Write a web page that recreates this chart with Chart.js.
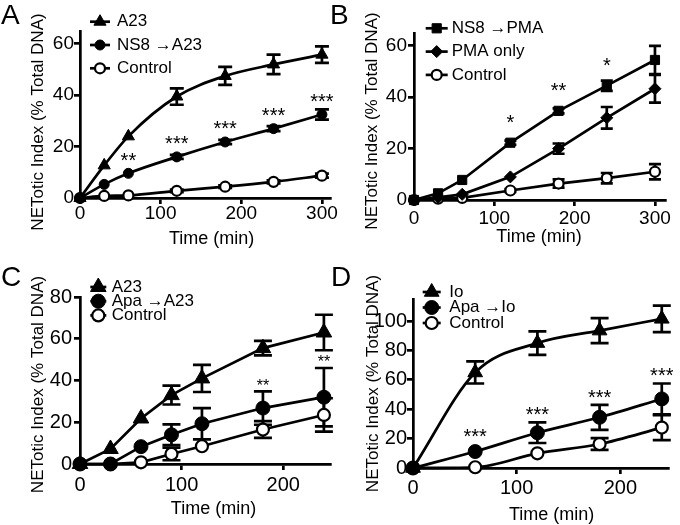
<!DOCTYPE html>
<html>
<head>
<meta charset="utf-8">
<script src="https://cdn.jsdelivr.net/npm/chart.js@4.4.1/dist/chart.umd.min.js"></script>
<style>
  html, body { margin: 0; padding: 0; background: #fff; }
  #figure { position: relative; width: 680px; height: 525px; font-family: "Liberation Sans", Arial, sans-serif; }
  .panel { position: absolute; }
  .letter { position: absolute; font-size: 28px; line-height: 1; color: #000; }
</style>
</head>
<body>
<div id="figure">
  <div class="panel" style="left:0;top:0;width:340px;height:262px"><canvas id="chartA" width="340" height="262"></canvas></div>
  <div class="panel" style="left:340px;top:0;width:340px;height:262px"><canvas id="chartB" width="340" height="262"></canvas></div>
  <div class="panel" style="left:0;top:262px;width:340px;height:263px"><canvas id="chartC" width="340" height="263"></canvas></div>
  <div class="panel" style="left:340px;top:262px;width:340px;height:263px"><canvas id="chartD" width="340" height="263"></canvas></div>
  <div class="letter" style="left:1px;top:1px">A</div>
  <div class="letter" style="left:330px;top:1px">B</div>
  <div class="letter" style="left:1px;top:263px">C</div>
  <div class="letter" style="left:331px;top:263px">D</div>
</div>
<script>
const FONT = '"Liberation Sans", Arial, sans-serif';
const Y_TITLE = "NETotic Index (% Total DNA)";
const X_TITLE = "Time (min)";

// Panel A
const timesA = [0, 30, 60, 120, 180, 240, 300];
const a23A = [0, 12.7, 24, 39.5, 47.5, 52, 55.8];
const a23ErrA = [0, 0, 0, 3.2, 3.5, 3.8, 3.2];
const ns8A = [0, 5.3, 9.6, 16, 21.8, 27, 32.5];
const ns8ErrA = [0, 0, 0, 0.8, 0.8, 1, 2];
const ctrlA = [0, 0.8, 1, 2.8, 4.4, 6.3, 8.7];
const ctrlErrA = [0, 0, 0, 0.5, 0.5, 0.6, 0.8];
const starsA = ["", "", "**", "***", "***", "***", "***"];
const xTicksA = [0, 100, 200, 300];
const yTicksA = [0, 20, 40, 60];

// Panel B
const timesB = [0, 30, 60, 120, 180, 240, 300];
const ns8PmaB = [0, 2.6, 7.8, 22.3, 34.7, 44.5, 54.5];
const ns8PmaErrB = [0, 0, 0, 0.8, 1, 2, 5.5];
const pmaOnlyB = [0, 1, 2.2, 9, 20, 32, 43.3];
const pmaOnlyErrB = [0, 0, 0, 0, 2, 4.2, 5.4];
const ctrlB = [0, 0.5, 0.8, 3.7, 6.4, 8.5, 11];
const ctrlErrB = [0, 0, 0, 0.5, 1.6, 2, 3];
const starsB = ["", "", "", "*", "**", "*", ""];
const xTicksB = [0, 100, 200, 300];
const yTicksB = [0, 20, 40, 60];

// Panel C
const timesC = [0, 30, 60, 90, 120, 180, 240];
const a23C = [0, 7.2, 21.8, 33, 41, 55.5, 63];
const a23ErrC = [0, 0, 0, 4.5, 6.5, 3.5, 8.5];
const apaC = [0, 0, 8.3, 14, 19.3, 26.8, 32];
const apaErrC = [0, 0, 0, 5, 7.5, 8, 14];
const ctrlC = [0, 0, 0.8, 4.8, 8.5, 16.5, 23.5];
const ctrlErrC = [0, 0, 0, 3, 0, 4, 8];
const starsC = ["", "", "", "", "", "**", "**"];
const xTicksC = [0, 100, 200];
const yTicksC = [0, 20, 40, 60, 80];

// Panel D
const timesD = [0, 60, 120, 180, 240];
const ioD = [0, 65, 85, 93.5, 101.5];
const ioErrD = [0, 7.5, 8, 8.5, 9];
const apaD = [0, 11.2, 24, 34.5, 47];
const apaErrD = [0, 0, 7, 8.5, 10.5];
const ctrlD = [0, 0.5, 10, 16.3, 27.5];
const ctrlErrD = [0, 0, 0, 4, 8.5];
const starsD = ["", "***", "***", "***", "***"];
const xTicksD = [0, 100, 200];
const yTicksD = [0, 20, 40, 60, 80, 100];

const LINE_W = 2.7;

function drawMarker(ctx, style, r, filled, x, y) {
  ctx.save();
  ctx.fillStyle = filled ? "#000" : "#fff";
  ctx.strokeStyle = "#000";
  ctx.lineWidth = filled ? 1 : 2.2;
  Chart.helpers.drawPoint(ctx, { pointStyle: style, radius: r, rotation: 0, borderWidth: ctx.lineWidth }, x, y);
  ctx.restore();
}

const errorBarPlugin = {
  id: "errorBars",
  beforeDatasetsDraw(chart, args, opts) {
    const { ctx } = chart;
    const x = chart.scales.x, y = chart.scales.y;
    ctx.save();
    ctx.strokeStyle = "#000";
    ctx.lineWidth = LINE_W;
    chart.data.datasets.forEach((ds) => {
      ds.data.forEach((p, i) => {
        const e = ds.errs[i];
        if (!e) return;
        const px = x.getPixelForValue(p.x);
        const top = y.getPixelForValue(p.y + e);
        const bot = y.getPixelForValue(p.y - e);
        ctx.beginPath();
        ctx.moveTo(px, top); ctx.lineTo(px, bot);
        ctx.moveTo(px - opts.cap, top); ctx.lineTo(px + opts.cap, top);
        ctx.moveTo(px - opts.cap, bot); ctx.lineTo(px + opts.cap, bot);
        ctx.stroke();
      });
    });
    ctx.restore();
  }
};

const starsPlugin = {
  id: "stars",
  afterDatasetsDraw(chart, args, opts) {
    const { ctx } = chart;
    const x = chart.scales.x, y = chart.scales.y;
    const ds = chart.data.datasets[opts.ref];
    ctx.save();
    ctx.fillStyle = "#000";
    ctx.font = `${opts.size}px ${FONT}`;
    ctx.textAlign = "center";
    ctx.textBaseline = "alphabetic";
    opts.labels.forEach((txt, i) => {
      if (!txt) return;
      const p = ds.data[i];
      const anchor = Math.min(y.getPixelForValue(p.y + ds.errs[i]), y.getPixelForValue(p.y) - ds.pointRadius);
      ctx.fillText(txt, x.getPixelForValue(p.x), anchor - opts.gap + 0.585 * opts.size);
    });
    ctx.restore();
  }
};

const panelTextPlugin = {
  id: "panelText",
  afterDraw(chart, args, opts) {
    const { ctx } = chart;
    ctx.save();
    ctx.fillStyle = "#000";
    ctx.textAlign = "center";
    ctx.textBaseline = "middle";
    ctx.font = `${opts.xTitle.size}px ${FONT}`;
    ctx.fillText(X_TITLE, opts.xTitle.x, opts.xTitle.y);
    ctx.translate(opts.yTitle.x, opts.yTitle.y);
    ctx.rotate(-Math.PI / 2);
    ctx.font = `${opts.yTitle.size}px ${FONT}`;
    ctx.fillText(Y_TITLE, 0, 0);
    ctx.restore();

    // legend: short line, marker, label
    const lg = opts.legend;
    ctx.save();
    ctx.font = `${lg.size}px ${FONT}`;
    ctx.textBaseline = "middle";
    ctx.textAlign = "left";
    chart.data.datasets.forEach((ds, i) => {
      const yy = lg.y0 + i * lg.dy;
      ctx.strokeStyle = "#000";
      ctx.lineWidth = LINE_W;
      ctx.beginPath();
      ctx.moveTo(lg.cx - lg.half, yy);
      ctx.lineTo(lg.cx + lg.half, yy);
      ctx.stroke();
      drawMarker(ctx, ds.pointStyle, ds.pointRadius, ds.filled, lg.cx, yy);
      ctx.fillStyle = "#000";
      ctx.fillText(ds.label, lg.tx, yy);
    });
    ctx.restore();
  }
};

function makeSeries(label, times, values, errs, style, radius, filled, mode) {
  return {
    label: label,
    data: times.map((t, i) => ({ x: t, y: values[i] })),
    errs: errs,
    filled: filled,
    borderColor: "#000",
    borderWidth: LINE_W,
    pointStyle: style,
    pointRadius: radius,
    pointBackgroundColor: filled ? "#000" : "#fff",
    pointBorderColor: "#000",
    pointBorderWidth: filled ? 1 : 2.2,
    cubicInterpolationMode: mode === "smooth" ? "monotone" : "default",
    tension: 0,
    clip: false
  };
}

function makePanel(id, p) {
  const canvas = document.getElementById(id);
  const W = canvas.width, H = canvas.height;
  return new Chart(canvas, {
    type: "line",
    data: { datasets: p.series },
    plugins: [errorBarPlugin, starsPlugin, panelTextPlugin],
    options: {
      responsive: false,
      animation: false,
      events: [],
      layout: { padding: { left: 0, top: p.area.top, right: W - p.area.right, bottom: 0 } },
      plugins: {
        legend: { display: false },
        tooltip: { enabled: false },
        errorBars: { cap: p.cap },
        stars: p.stars,
        panelText: { xTitle: p.xTitle, yTitle: p.yTitle, legend: p.legend }
      },
      scales: {
        x: {
          type: "linear",
          min: 0,
          max: p.xMax,
          afterFit: (s) => { s.height = H - p.area.bottom; },
          afterBuildTicks: (s) => { s.ticks = p.xTicks.map((v) => ({ value: v })); },
          ticks: { color: "#000", font: { family: FONT, size: p.tickSize, lineHeight: 1 }, padding: p.xTickPad, maxRotation: 0, autoSkip: false },
          grid: { drawOnChartArea: false, drawTicks: true, tickLength: 6, color: "#000", lineWidth: LINE_W },
          border: { color: "#000", width: LINE_W }
        },
        y: {
          type: "linear",
          min: 0,
          max: p.yMax,
          afterFit: (s) => { s.width = p.area.left; },
          afterBuildTicks: (s) => { s.ticks = p.yTicks.map((v) => ({ value: v })); },
          ticks: { color: "#000", font: { family: FONT, size: p.tickSize, lineHeight: 1 }, padding: p.yTickPad },
          grid: { drawOnChartArea: false, drawTicks: true, tickLength: 6, color: "#000", lineWidth: LINE_W },
          border: { color: "#000", width: LINE_W }
        }
      }
    }
  });
}

makePanel("chartA", {
  area: { left: 80, top: 31, right: 330, bottom: 198 },
  xMax: 310, yMax: 65, xTicks: xTicksA, yTicks: yTicksA,
  tickSize: 19, xTickPad: 0, yTickPad: 0, cap: 7,
  series: [
    makeSeries("A23", timesA, a23A, a23ErrA, "triangle", 7, true, "smooth"),
    makeSeries("NS8 \u2192A23", timesA, ns8A, ns8ErrA, "circle", 5, true, "smooth"),
    makeSeries("Control", timesA, ctrlA, ctrlErrA, "circle", 5, false, "smooth")
  ],
  stars: { labels: starsA, ref: 1, gap: 13.5, size: 20 },
  legend: { cx: 100, y0: 21.7, dy: 23.3, half: 10, tx: 117, size: 17 },
  xTitle: { x: 211.7, y: 239, size: 18 },
  yTitle: { x: 38, y: 122, size: 17 }
});

makePanel("chartB", {
  area: { left: 74, top: 33, right: 325, bottom: 200 },
  xMax: 312.5, yMax: 65, xTicks: xTicksB, yTicks: yTicksB,
  tickSize: 19, xTickPad: 3, yTickPad: 1, cap: 6,
  series: [
    makeSeries("NS8 \u2192PMA", timesB, ns8PmaB, ns8PmaErrB, "rect", 6.5, true, "linear"),
    makeSeries("PMA only", timesB, pmaOnlyB, pmaOnlyErrB, "rectRot", 6, true, "linear"),
    makeSeries("Control", timesB, ctrlB, ctrlErrB, "circle", 5, false, "linear")
  ],
  stars: { labels: starsB, ref: 0, gap: 19, size: 20 },
  legend: { cx: 96.7, y0: 28.3, dy: 23.3, half: 11, tx: 111.7, size: 17 },
  xTitle: { x: 199, y: 237, size: 18 },
  yTitle: { x: 32, y: 121, size: 17 }
});

makePanel("chartC", {
  area: { left: 80, top: 35, right: 330, bottom: 202 },
  xMax: 246, yMax: 80, xTicks: xTicksC, yTicks: yTicksC,
  tickSize: 20, xTickPad: 5, yTickPad: 2, cap: 9,
  series: [
    makeSeries("A23", timesC, a23C, a23ErrC, "triangle", 9, true, "linear"),
    makeSeries("Apa \u2192A23", timesC, apaC, apaErrC, "circle", 7, true, "linear"),
    makeSeries("Control", timesC, ctrlC, ctrlErrC, "circle", 6, false, "linear")
  ],
  stars: { labels: starsC, ref: 1, gap: 10, size: 16 },
  legend: { cx: 98.3, y0: 25, dy: 14.2, half: 8, tx: 111.7, size: 17 },
  xTitle: { x: 213.5, y: 246.7, size: 18 },
  yTitle: { x: 38, y: 122.5, size: 17 }
});

makePanel("chartD", {
  area: { left: 73, top: 37, right: 328, bottom: 206 },
  xMax: 246, yMax: 115, xTicks: xTicksD, yTicks: yTicksD,
  tickSize: 20, xTickPad: 4, yTickPad: 0, cap: 9,
  series: [
    makeSeries("Io", timesD, ioD, ioErrD, "triangle", 8.5, true, "smooth"),
    makeSeries("Apa \u2192Io", timesD, apaD, apaErrD, "circle", 7, true, "smooth"),
    makeSeries("Control", timesD, ctrlD, ctrlErrD, "circle", 6, false, "smooth")
  ],
  stars: { labels: starsD, ref: 1, gap: 13, size: 20 },
  legend: { cx: 91.7, y0: 30, dy: 15.5, half: 9, tx: 109.3, size: 17 },
  xTitle: { x: 211.7, y: 253.3, size: 18 },
  yTitle: { x: 33, y: 121.5, size: 17 }
});
</script>
</body>
</html>
